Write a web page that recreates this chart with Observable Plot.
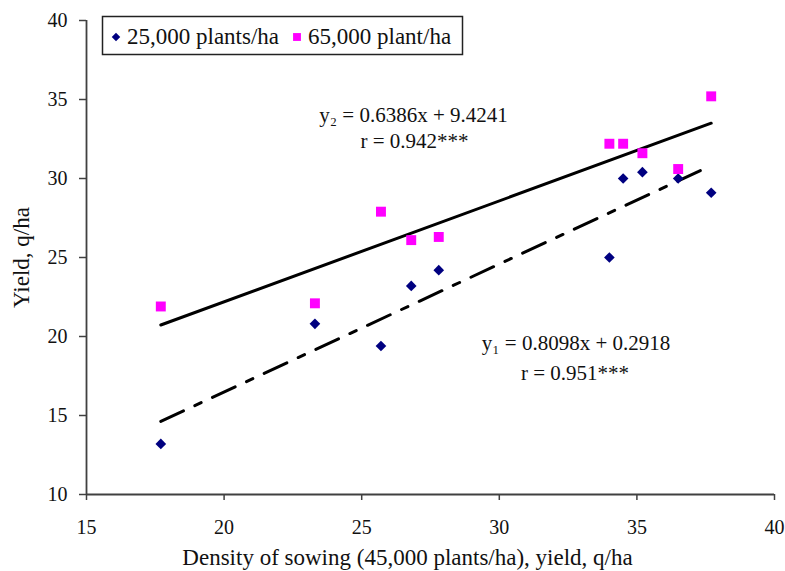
<!DOCTYPE html>
<html>
<head>
<meta charset="utf-8">
<script src="https://cdn.jsdelivr.net/npm/d3@7"></script>
<script src="https://cdn.jsdelivr.net/npm/@observablehq/plot@0.6"></script>
<style>
  html, body { margin: 0; padding: 0; background: #fff; }
  #chart { position: relative; width: 785px; height: 571px; }
  #chart svg.overlay { position: absolute; left: 0; top: 0; pointer-events: none; }
</style>
</head>
<body>
<div id="chart"></div>
<script>
// ---- data ----
const density = [17.7, 23.3, 25.7, 26.8, 27.8, 34.0, 34.5, 35.2, 36.5, 37.7];
const yield25 = [13.2, 20.8, 19.4, 23.2, 24.2, 25.0, 30.0, 30.4, 30.0, 29.1];
const yield65 = [21.9, 22.1, 27.9, 26.1, 26.3, 32.2, 32.2, 31.6, 30.6, 35.2];
const seriesNames = ["25,000 plants/ha", "65,000 plant/ha"];
const slopes = [0.8098, 0.6386];
const intercepts = [0.2918, 9.4241];
const rValues = ["0.951", "0.942"];
const eqNames = ["y\u2081", "y\u2082"];
const xTicks = [15, 20, 25, 30, 35, 40];
const yTicks = [10, 15, 20, 25, 30, 35, 40];
const xLabel = "Density of sowing (45,000 plants/ha), yield, q/ha";
const yLabel = "Yield, q/ha";

// ---- derived tables ----
const rows25 = density.map((x, i) => ({x, y: yield25[i]}));
const rows65 = density.map((x, i) => ({x, y: yield65[i]}));
const [xMin, xMax] = d3.extent(density);
const trends = slopes.map((m, k) => [
  {x: xMin, y: m * xMin + intercepts[k]},
  {x: xMax, y: m * xMax + intercepts[k]}
]);
const eqText = slopes.map((m, k) => `${eqNames[k]} = ${m.toFixed(4)}x + ${intercepts[k].toFixed(4)}`);
const rText = rValues.map(r => `r = ${r}***`);

const serif = "'Liberation Serif', 'Times New Roman', Times, serif";
const axisColor = "#404040";

const plot = Plot.plot({
  width: 785,
  height: 571,
  marginLeft: 86,
  marginRight: 11,
  marginTop: 20,
  marginBottom: 77,
  style: {fontFamily: serif, fontSize: "20px", background: "#fff", color: "#111", overflow: "visible"},
  x: {domain: [15, 40]},
  y: {domain: [10, 40]},
  marks: [
    Plot.axisX({ticks: xTicks, tickSize: 6, tickPadding: 19, label: null, stroke: axisColor, strokeWidth: 1.5, fill: "#111", fontSize: 20}),
    Plot.axisY({ticks: yTicks, tickSize: 7, tickPadding: 12, label: null, stroke: axisColor, strokeWidth: 1.5, fill: "#111", fontSize: 20}),
    Plot.ruleY([10], {stroke: axisColor, strokeWidth: 1.8}),
    Plot.ruleX([15], {stroke: axisColor, strokeWidth: 1.8}),
    // trend lines
    Plot.line(trends[1], {x: "x", y: "y", stroke: "#000", strokeWidth: 3}),
    Plot.line(trends[0], {x: "x", y: "y", stroke: "#000", strokeWidth: 3, strokeDasharray: "25,12.5,7,12.5"}),
    // points
    Plot.dot(rows25, {x: "x", y: "y", symbol: "diamond2", r: 4.8, fill: "#000080", stroke: "none"}),
    Plot.dot(rows65, {x: "x", y: "y", symbol: "square", r: 5.6, fill: "#ff00ff", stroke: "none"}),
    // equations
    Plot.text([eqText[1]], {text: d => d, frameAnchor: "top-left", dx: 327, dy: 95, textAnchor: "middle", lineAnchor: "middle", fontSize: 21, fill: "#111"}),
    Plot.text([rText[1]], {text: d => d, frameAnchor: "top-left", dx: 328, dy: 120.5, textAnchor: "middle", lineAnchor: "middle", fontSize: 21, fill: "#111"}),
    Plot.text([eqText[0]], {text: d => d, frameAnchor: "top-left", dx: 489.5, dy: 323, textAnchor: "middle", lineAnchor: "middle", fontSize: 21, fill: "#111"}),
    Plot.text([rText[0]], {text: d => d, frameAnchor: "top-left", dx: 488.5, dy: 353, textAnchor: "middle", lineAnchor: "middle", fontSize: 21, fill: "#111"}),
    // axis titles
    Plot.text([xLabel], {text: d => d, frameAnchor: "bottom", dx: -23, dy: 63, textAnchor: "middle", lineAnchor: "middle", fontSize: 23, fill: "#111"}),
    Plot.text([yLabel], {text: d => d, frameAnchor: "left", dx: -65, rotate: -90, textAnchor: "middle", lineAnchor: "middle", fontSize: 23, fill: "#111"})
  ]
});

const chart = document.getElementById("chart");
chart.appendChild(plot);

// ---- legend (boxed, top-left inside plot area) ----
const leg = d3.create("svg")
  .attr("class", "overlay")
  .attr("width", 785)
  .attr("height", 571);
leg.append("rect")
  .attr("x", 102.5).attr("y", 16.5).attr("width", 360).attr("height", 38)
  .attr("fill", "#fff").attr("stroke", "#222").attr("stroke-width", 1.5);
// diamond
leg.append("path")
  .attr("d", d3.symbol(d3.symbolDiamond2, 46)())
  .attr("transform", "translate(116,37)")
  .attr("fill", "#000080");
leg.append("text")
  .attr("x", 127).attr("y", 44)
  .attr("font-family", serif).attr("font-size", 23).attr("fill", "#111")
  .text(seriesNames[0]);
// square
leg.append("path")
  .attr("d", d3.symbol(d3.symbolSquare, 62)())
  .attr("transform", "translate(297,37)")
  .attr("fill", "#ff00ff");
leg.append("text")
  .attr("x", 308).attr("y", 44)
  .attr("font-family", serif).attr("font-size", 23).attr("fill", "#111")
  .text(seriesNames[1]);
chart.appendChild(leg.node());
</script>
</body>
</html>
